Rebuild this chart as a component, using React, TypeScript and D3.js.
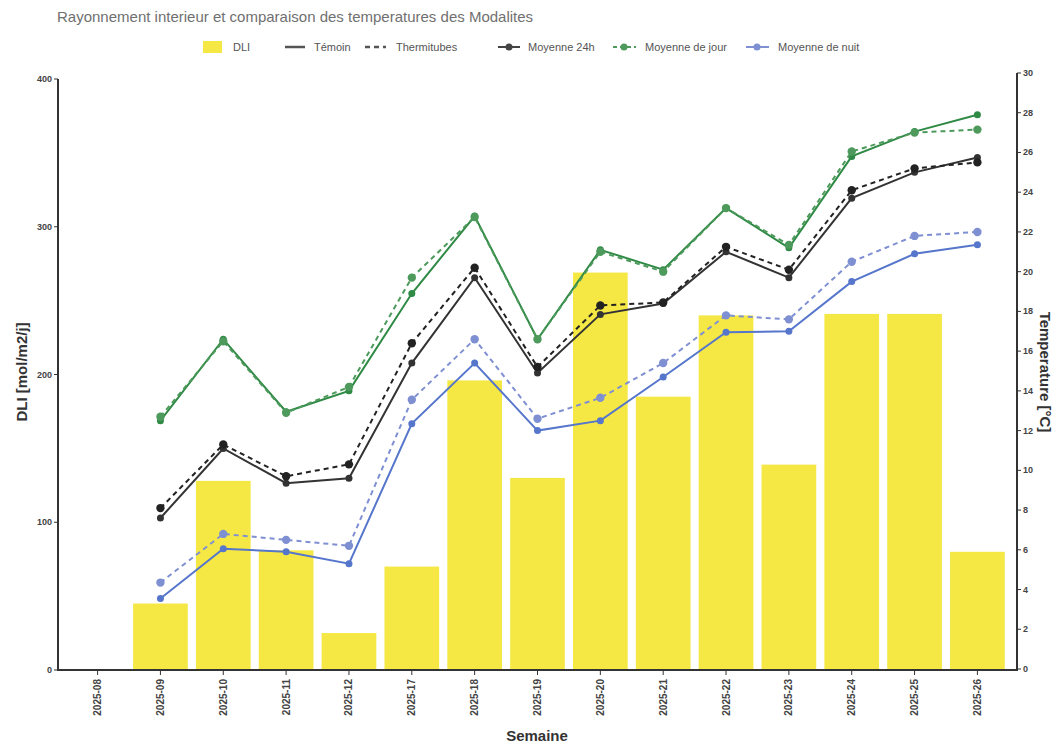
import React from "react";
import * as d3 from "d3";

const weeks = ["2025-08","2025-09","2025-10","2025-11","2025-12","2025-17","2025-18","2025-19","2025-20","2025-21","2025-22","2025-23","2025-24","2025-25","2025-26"];
const dli = [0,45,128,81,25,70,196,130,269,185,240,139,241,241,80];

const jourTemoin = [null,12.5,16.6,12.95,14.0,18.9,22.8,16.6,21.1,20.1,23.2,21.2,25.8,27.05,27.9];
const jourThermi = [null,12.7,16.5,12.9,14.2,19.7,22.75,16.6,21.0,20.0,23.2,21.35,26.05,27.0,27.15];
const h24Temoin = [null,7.6,11.1,9.35,9.6,15.4,19.7,14.9,17.85,18.4,21.0,19.7,23.7,25.0,25.75];
const h24Thermi = [null,8.1,11.3,9.7,10.3,16.4,20.2,15.2,18.3,18.45,21.25,20.1,24.1,25.2,25.5];
const nuitTemoin = [null,3.55,6.05,5.9,5.3,12.35,15.4,12.0,12.5,14.7,16.95,17.0,19.5,20.9,21.35];
const nuitThermi = [null,4.35,6.8,6.5,6.2,13.55,16.6,12.6,13.65,15.4,17.8,17.6,20.5,21.8,22.0];

const leftTicks = [0,100,200,300,400];
const rightTicks = [0,2,4,6,8,10,12,14,16,18,20,22,24,26,28,30];

const FONT = "Arial, 'Liberation Sans', sans-serif";

export default function App() {
  const x = d3.scalePoint<string>().domain(weeks).range([58, 1017]).padding(0.63);
  const yL = d3.scaleLinear().domain([0, 400]).range([670, 79]);
  const yR = d3.scaleLinear().domain([0, 30]).range([669, 73]);
  const bw = x.step() * 0.87;

  const line = d3.line<number | null>()
    .defined((d) => d !== null)
    .x((_, i) => x(weeks[i]) as number)
    .y((d) => yR(d as number));

  const series = [
    { data: jourTemoin, color: "#2f8a45", dash: null, r: 3.5 },
    { data: jourThermi, color: "#4e9a5c", dash: "5,4", r: 4.2 },
    { data: h24Temoin, color: "#333333", dash: null, r: 3.5 },
    { data: h24Thermi, color: "#222222", dash: "5,4", r: 4.2 },
    { data: nuitTemoin, color: "#5676cc", dash: null, r: 3.5 },
    { data: nuitThermi, color: "#7f90d2", dash: "5,4", r: 4.2 },
  ];

  return (
    <svg width={1056} height={744} style={{ position: "absolute", left: 0, top: 0, background: "#fff" }} fontFamily={FONT}>
      <text x={57} y={22} fontSize={15} fill="#707070">Rayonnement interieur et comparaison des temperatures des Modalites</text>

      {/* Legend */}
      <g fontSize={11} fill="#555">
        <rect x={203} y={41} width={19} height={12} fill="#f4e52a" opacity={0.88} />
        <text x={233} y={51}>DLI</text>
        <line x1={285} x2={305} y1={47} y2={47} stroke="#555" strokeWidth={2.5} />
        <text x={314} y={51}>Témoin</text>
        <line x1={365} x2={386} y1={47} y2={47} stroke="#555" strokeWidth={2.5} strokeDasharray="5,4" />
        <text x={396} y={51}>Thermitubes</text>
        <line x1={498} x2={520} y1={47} y2={47} stroke="#444" strokeWidth={2} />
        <circle cx={509} cy={47} r={3.5} fill="#444" />
        <text x={528} y={51}>Moyenne 24h</text>
        <line x1={613} x2={636} y1={47} y2={47} stroke="#4e9a5c" strokeWidth={2} strokeDasharray="4,3" />
        <circle cx={624} cy={47} r={3.5} fill="#4e9a5c" />
        <text x={645} y={51}>Moyenne de jour</text>
        <line x1={746} x2={769} y1={47} y2={47} stroke="#7f90d2" strokeWidth={2} />
        <circle cx={757} cy={47} r={3.5} fill="#7f90d2" />
        <text x={778} y={51}>Moyenne de nuit</text>
      </g>

      {/* Bars */}
      {dli.map((v, i) =>
        v > 0 ? (
          <rect key={i} x={(x(weeks[i]) as number) - bw / 2} y={yL(v)} width={bw} height={yL(0) - yL(v)} fill="#f4e52a" opacity={0.88} />
        ) : null
      )}

      {/* Lines */}
      {series.map((s, k) => (
        <g key={k}>
          <path d={line(s.data) || ""} fill="none" stroke={s.color} strokeWidth={2} strokeDasharray={s.dash || undefined} />
          {s.data.map((d, i) =>
            d === null ? null : <circle key={i} cx={x(weeks[i]) as number} cy={yR(d)} r={s.r} fill={s.color} />
          )}
        </g>
      ))}

      {/* Axes */}
      <g stroke="#333" strokeWidth={2} fill="none">
        <line x1={58} x2={58} y1={79} y2={670} />
        <line x1={1017} x2={1017} y1={73} y2={670} />
        <line x1={57} x2={1018} y1={670} y2={670} />
      </g>

      <g fontSize={9} fontWeight="bold" fill="#444">
        {leftTicks.map((t) => (
          <g key={t}>
            <line x1={54} x2={58} y1={yL(t)} y2={yL(t)} stroke="#333" strokeWidth={1} />
            <text x={52} y={yL(t) + 3} textAnchor="end">{t}</text>
          </g>
        ))}
        {rightTicks.map((t) => (
          <g key={t}>
            <line x1={1017} x2={1021} y1={yR(t)} y2={yR(t)} stroke="#333" strokeWidth={1} />
            <text x={1023} y={yR(t) + 3} textAnchor="start">{t}</text>
          </g>
        ))}
        {weeks.map((w) => (
          <g key={w}>
            <line x1={x(w) as number} x2={x(w) as number} y1={670} y2={675} stroke="#333" strokeWidth={1} />
            <text transform={`translate(${(x(w) as number) + 3.5},679) rotate(-90)`} textAnchor="end" fontSize={10}>{w}</text>
          </g>
        ))}
      </g>

      <text x={537} y={741} fontSize={15} fontWeight="bold" fill="#333" textAnchor="middle">Semaine</text>
      <text transform="translate(27,372) rotate(-90)" fontSize={15} fontWeight="bold" fill="#333" textAnchor="middle">DLI [mol/m2/j]</text>
      <text transform="translate(1040,372) rotate(90)" fontSize={15} fontWeight="bold" fill="#333" textAnchor="middle">Temperature [°C]</text>
    </svg>
  );
}
